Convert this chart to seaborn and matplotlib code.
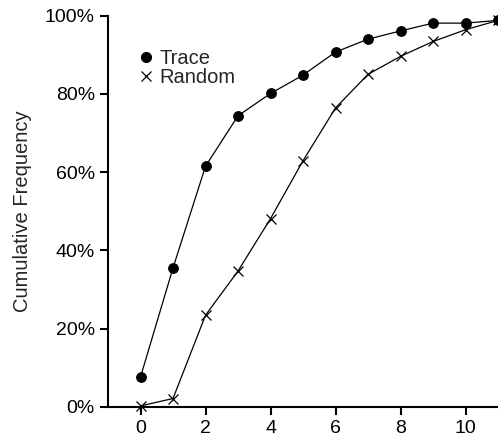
import numpy as np
import pandas as pd
import matplotlib
matplotlib.use("Agg")
import matplotlib.pyplot as plt
from matplotlib.lines import Line2D
from matplotlib.ticker import PercentFormatter
import seaborn as sns

steps = list(range(12))
trace = [0.076, 0.355, 0.615, 0.744, 0.801, 0.848, 0.907, 0.940, 0.961, 0.981, 0.981, 0.988]
random_ = [0.002, 0.021, 0.234, 0.347, 0.481, 0.629, 0.764, 0.850, 0.896, 0.934, 0.964, 0.988]

sns.set_style("ticks")
plt.rcParams["font.family"] = ["Liberation Sans", "DejaVu Sans"]
plt.rcParams["font.size"] = 14

df = pd.DataFrame({"step": steps, "Trace": trace, "Random": random_})

fig = plt.figure(figsize=(4.98, 4.43), dpi=100)
ax = fig.add_axes([0.2169, 0.0819, 0.7831, 0.8827])

sns.lineplot(data=df, x="step", y="Trace", ax=ax, color="black", linewidth=0.9,
             marker="o", markersize=7, markeredgecolor="black", clip_on=False)
sns.lineplot(data=df, x="step", y="Random", ax=ax, color="black", linewidth=0.9,
             marker="x", markersize=6.5, markeredgewidth=0.9, markeredgecolor="black",
             clip_on=False)

ax.set_xlim(-1, 11)
ax.set_ylim(0, 1)
ax.set_xticks([0, 2, 4, 6, 8, 10])
ax.set_yticks([0, 0.2, 0.4, 0.6, 0.8, 1.0])
ax.yaxis.set_major_formatter(PercentFormatter(1.0, decimals=0))
ax.set_xlabel("")
ax.set_ylabel("Cumulative Frequency", fontsize=14.5, labelpad=9)
ax.tick_params(direction="out", length=6, width=1.5, labelsize=14, colors="black")
sns.despine(ax=ax)
for s in ["left", "bottom"]:
    ax.spines[s].set_linewidth(1.5)
    ax.spines[s].set_color("black")

handles = [Line2D([], [], color="black", marker="o", linestyle="none", markersize=7),
           Line2D([], [], color="black", marker="x", linestyle="none", markersize=6.5,
                  markeredgewidth=0.9)]
ax.legend(handles, ["Trace", "Random"], loc="upper left", bbox_to_anchor=(0.06, 0.935),
          frameon=False, handlelength=0.6, handletextpad=0.4, labelspacing=0.0,
          fontsize=14.5, borderaxespad=0)

fig.savefig("out.png", dpi=100)
